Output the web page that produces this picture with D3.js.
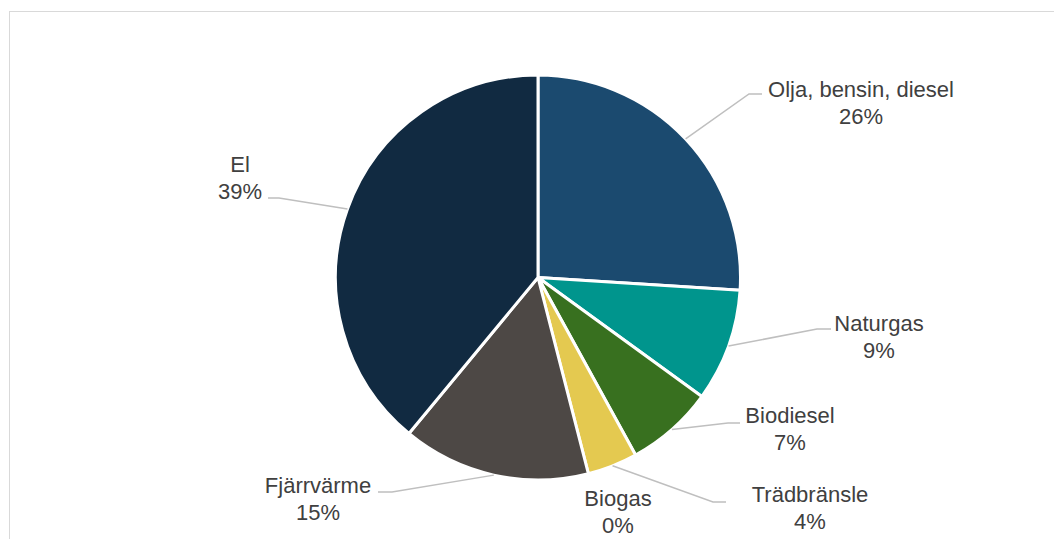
<!DOCTYPE html>
<html>
<head>
<meta charset="utf-8">
<script src="https://cdn.jsdelivr.net/npm/d3@7"></script>
<style>
  html, body { margin: 0; padding: 0; background: #fff; }
  svg { display: block; }
  text { font-family: "Liberation Sans", Arial, sans-serif; }
</style>
</head>
<body>
<svg id="chart" width="1054" height="539"></svg>
<script>
// Energy sources, share in percent (clockwise from 12 o'clock)
const categories = ["Olja, bensin, diesel", "Naturgas", "Biodiesel", "Trädbränsle", "Biogas", "Fjärrvärme", "El"];
const shares = [26, 9, 7, 4, 0, 15, 39];
const colors = ["#1b4a6f", "#00958d", "#38701f", "#e4c950", "#7f7f7f", "#4d4845", "#112a41"];

// Label placement: text centre x, first baseline y, and leader elbow/end (null = no leader)
const labelLayout = [
  { x: 861, y: 97,  elbow: [749, 94],  end: [762, 94] },
  { x: 879, y: 331, elbow: [817, 329], end: [831, 329] },
  { x: 790, y: 423, elbow: [728, 423], end: [740, 423] },
  { x: 810, y: 502, elbow: [713, 502], end: [726, 502] },
  { x: 618, y: 506, elbow: null,       end: null },
  { x: 318, y: 493, elbow: [392, 492], end: [378, 492] },
  { x: 240, y: 172, elbow: [279, 198], end: [268, 198] }
];

const svg = d3.select("#chart");
const cx = 538, cy = 277.5, R = 202.5;

// chart area frame
svg.append("rect")
  .attr("x", 9.5).attr("y", 11.5)
  .attr("width", 1200).attr("height", 700)
  .attr("fill", "#fff")
  .attr("stroke", "#d9d9d9").attr("stroke-width", 1);

const data = categories.map((c, i) => ({ name: c, value: shares[i], color: colors[i], layout: labelLayout[i] }));

const pie = d3.pie().sort(null).value(d => d.value);
const arcs = pie(data);
const arc = d3.arc().innerRadius(0).outerRadius(R);
const edge = d3.arc().innerRadius(R).outerRadius(R);

const g = svg.append("g").attr("transform", `translate(${cx},${cy})`);

g.selectAll("path.slice")
  .data(arcs.filter(d => d.value > 0))
  .join("path")
  .attr("class", "slice")
  .attr("d", arc)
  .attr("fill", d => d.data.color)
  .attr("stroke", "#fff")
  .attr("stroke-width", 3)
  .attr("stroke-linejoin", "round");

// leader lines from the slice edge midpoint
const line = d3.line();
svg.selectAll("path.leader")
  .data(arcs.filter(d => d.data.layout.elbow))
  .join("path")
  .attr("class", "leader")
  .attr("d", d => {
    const c = edge.centroid(d);
    return line([[cx + c[0], cy + c[1]], d.data.layout.elbow, d.data.layout.end]);
  })
  .attr("fill", "none")
  .attr("stroke", "#bfbfbf")
  .attr("stroke-width", 1.5);

// two-line labels: name, then percent
const labels = svg.selectAll("text.lbl")
  .data(arcs)
  .join("text")
  .attr("class", "lbl")
  .attr("text-anchor", "middle")
  .attr("font-size", 22)
  .attr("fill", "#404040");

labels.append("tspan")
  .attr("x", d => d.data.layout.x)
  .attr("y", d => d.data.layout.y)
  .text(d => d.data.name);

labels.append("tspan")
  .attr("x", d => d.data.layout.x)
  .attr("y", d => d.data.layout.y + 27)
  .text(d => d3.format(".0f")(d.data.value) + "%");
</script>
</body>
</html>
